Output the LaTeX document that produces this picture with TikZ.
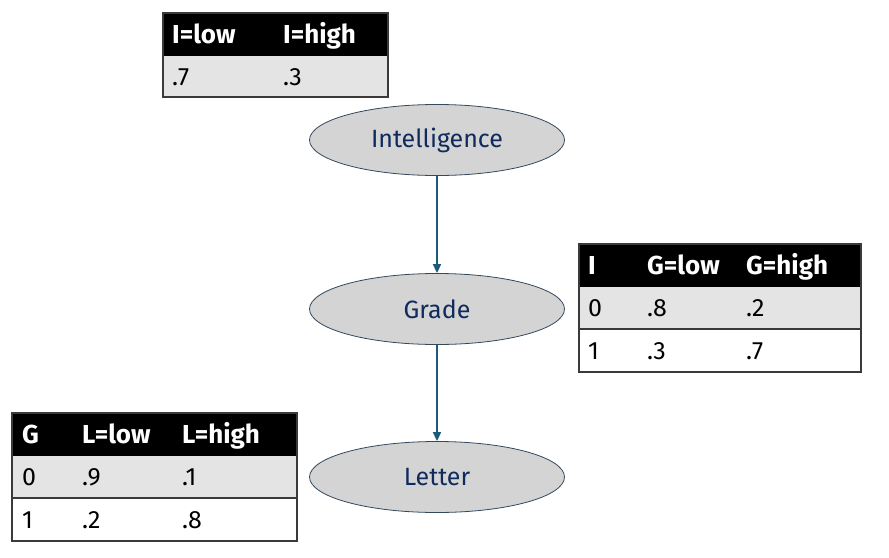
\documentclass[tikz,border=0pt]{standalone}
\usepackage{fontspec}
\setmainfont{Fira Sans}
\usetikzlibrary{shapes.geometric,arrows.meta}
\definecolor{nodefill}{HTML}{D4D4D4}
\definecolor{nodeline}{HTML}{34495E}
\definecolor{nodetext}{HTML}{0F2A5C}
\definecolor{edge}{HTML}{1B5B79}
\definecolor{rowgray}{HTML}{E4E4E4}
\definecolor{rule}{HTML}{3A3A3A}

\begin{document}
\begin{tikzpicture}[x=1pt, y=-1pt,
      var/.style={ellipse, draw=nodeline, fill=nodefill, line width=0.8pt, minimum width=255pt, minimum height=71pt, inner sep=0pt, text=nodetext, font=\fontsize{25}{28}\selectfont},
      head/.style={anchor=base west, text=white, font=\fontsize{26}{28}\selectfont\bfseries, inner sep=0pt},
      cell/.style={anchor=base west, font=\fontsize{25}{28}\selectfont, inner sep=0pt},
      link/.style={-{Triangle[length=9pt, width=8pt]}, edge, line width=1.6pt}
    ]
      \useasboundingbox (0,0) rectangle (889,557);

      % Variables
      \node[var] (intel) at (437,140) {Intelligence};
      \node[var] (grade) at (437,309) {Grade};
      \node[var] (letter) at (437,477) {Letter};

      % Arrows
      \draw[link] (intel) -- (grade);
      \draw[link] (grade) -- (letter);

      % Table for Intelligence
      \fill (163,13) rectangle (388,56);
      \fill[rowgray] (163,56) rectangle (388,97);
      \draw[rule, line width=1.5pt] (163,13) rectangle (388,97);
      \node[head] (ti1) at (172,43) {I=low};
      \node[head] (ti2) at (283,43) {I=high};
      \node[cell] (ti3) at (172,85) {.7};
      \node[cell] (ti4) at (283,85) {.3};

      % Table for Grade
      \fill (579,244) rectangle (861,287);
      \fill[rowgray] (579,287) rectangle (861,329);
      \draw[rule, line width=1.5pt] (579,329) -- (861,329);
      \draw[rule, line width=1.5pt] (579,244) rectangle (861,372);
      \node[head] (tg1) at (588,274) {I};
      \node[head] (tg2) at (647,274) {G=low};
      \node[head] (tg3) at (746,274) {G=high};
      \node[cell] (tg4) at (588,316.5) {0};
      \node[cell] (tg5) at (647,316.5) {.8};
      \node[cell] (tg6) at (746,316.5) {.2};
      \node[cell] (tg7) at (588,359) {1};
      \node[cell] (tg8) at (647,359) {.3};
      \node[cell] (tg9) at (746,359) {.7};

      % Table for Letter
      \fill (12,413) rectangle (297,456);
      \fill[rowgray] (12,456) rectangle (297,498);
      \draw[rule, line width=1.5pt] (12,498) -- (297,498);
      \draw[rule, line width=1.5pt] (12,413) rectangle (297,541);
      \node[head] (tl1) at (22,443) {G};
      \node[head] (tl2) at (82,443) {L=low};
      \node[head] (tl3) at (182,443) {L=high};
      \node[cell] (tl4) at (22,485.5) {0};
      \node[cell] (tl5) at (82,485.5) {.9};
      \node[cell] (tl6) at (182,485.5) {.1};
      \node[cell] (tl7) at (22,528) {1};
      \node[cell] (tl8) at (82,528) {.2};
      \node[cell] (tl9) at (182,528) {.8};
    \end{tikzpicture}
\end{document}
